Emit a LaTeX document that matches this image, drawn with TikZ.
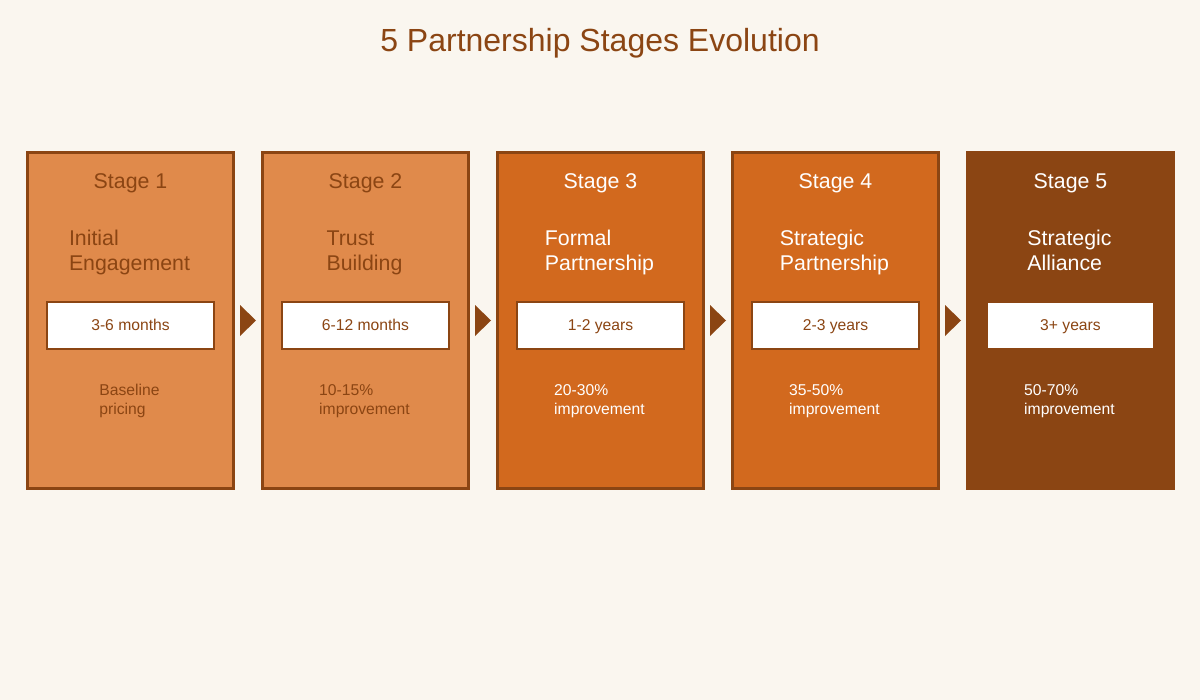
\documentclass[tikz,border=0pt]{standalone}
\usepackage{fontspec}
\setmainfont{Liberation Sans}
\usetikzlibrary{calc}
\definecolor{bgcream}{HTML}{FAF6EF}
\definecolor{rust}{HTML}{8B4513}
\definecolor{lightorange}{HTML}{E08A4B}
\definecolor{midorange}{HTML}{D2691E}
\tikzset{
  stagebox/.style={draw=rust, line width=2.25pt, minimum width=154.5pt, minimum height=252pt, inner sep=0pt},
  timebox/.style={draw=rust, fill=white, line width=1.5pt, minimum width=125.25pt, minimum height=35.25pt, inner sep=0pt, text height=10pt, text depth=1.8pt, text=rust, font=\fontsize{11.75}{14}\selectfont},
  stagelabel/.style={text height=12pt, text depth=3.5pt, font=\fontsize{16}{19}\selectfont},
  stagename/.style={align=left, inner sep=0pt, font=\fontsize{16}{18.75}\selectfont},
  gaintext/.style={align=left, inner sep=0pt, font=\fontsize{11.75}{14.25}\selectfont},
  stepmark/.style={fill=rust},
}
\begin{document}
\begin{tikzpicture}[x=0.75pt,y=-0.75pt]
  \fill[bgcream] (0,0) rectangle (1200,700);
  \node[text=rust, font=\fontsize{24}{28}\selectfont] (title) at (600,43) {5 Partnership Stages Evolution};
  % stage 1
  \node[stagebox, fill=lightorange] (s1) at (130.5,320.5) {};
  \node[stagelabel, text=rust] (s1lab) at (130.5,183) {Stage 1};
  \node[stagename, text=rust] (s1name) at (129.5,253.2) {\strut Initial\\Engagement\strut};
  \node[timebox] (s1time) at (130.5,325.5) {3-6 months};
  \node[gaintext, text=rust] (s1gain) at (129.5,401.3) {\strut Baseline\\pricing\strut};
  % stage 2
  \node[stagebox, fill=lightorange] (s2) at (365.5,320.5) {};
  \node[stagelabel, text=rust] (s2lab) at (365.5,183) {Stage 2};
  \node[stagename, text=rust] (s2name) at (364.5,253.2) {\strut Trust\\Building\strut};
  \node[timebox] (s2time) at (365.5,325.5) {6-12 months};
  \node[gaintext, text=rust] (s2gain) at (364.5,401.3) {\strut 10-15\%\\improvement\strut};
  % stage 3
  \node[stagebox, fill=midorange] (s3) at (600.5,320.5) {};
  \node[stagelabel, text=white] (s3lab) at (600.5,183) {Stage 3};
  \node[stagename, text=white] (s3name) at (599.5,253.2) {\strut Formal\\Partnership\strut};
  \node[timebox] (s3time) at (600.5,325.5) {1-2 years};
  \node[gaintext, text=white] (s3gain) at (599.5,401.3) {\strut 20-30\%\\improvement\strut};
  % stage 4
  \node[stagebox, fill=midorange] (s4) at (835.5,320.5) {};
  \node[stagelabel, text=white] (s4lab) at (835.5,183) {Stage 4};
  \node[stagename, text=white] (s4name) at (834.5,253.2) {\strut Strategic\\Partnership\strut};
  \node[timebox] (s4time) at (835.5,325.5) {2-3 years};
  \node[gaintext, text=white] (s4gain) at (834.5,401.3) {\strut 35-50\%\\improvement\strut};
  % stage 5
  \node[stagebox, fill=rust] (s5) at (1070.5,320.5) {};
  \node[stagelabel, text=white] (s5lab) at (1070.5,183) {Stage 5};
  \node[stagename, text=white] (s5name) at (1069.5,253.2) {\strut Strategic\\Alliance\strut};
  \node[timebox] (s5time) at (1070.5,325.5) {3+ years};
  \node[gaintext, text=white] (s5gain) at (1069.5,401.3) {\strut 50-70\%\\improvement\strut};
  % arrows between stages
  \fill[stepmark] ($(s1.east)+(5,-15.5)$) -- ++(16,15.5) -- ++(-16,15.5) -- cycle;
  \fill[stepmark] ($(s2.east)+(5,-15.5)$) -- ++(16,15.5) -- ++(-16,15.5) -- cycle;
  \fill[stepmark] ($(s3.east)+(5,-15.5)$) -- ++(16,15.5) -- ++(-16,15.5) -- cycle;
  \fill[stepmark] ($(s4.east)+(5,-15.5)$) -- ++(16,15.5) -- ++(-16,15.5) -- cycle;
\end{tikzpicture}
\end{document}
